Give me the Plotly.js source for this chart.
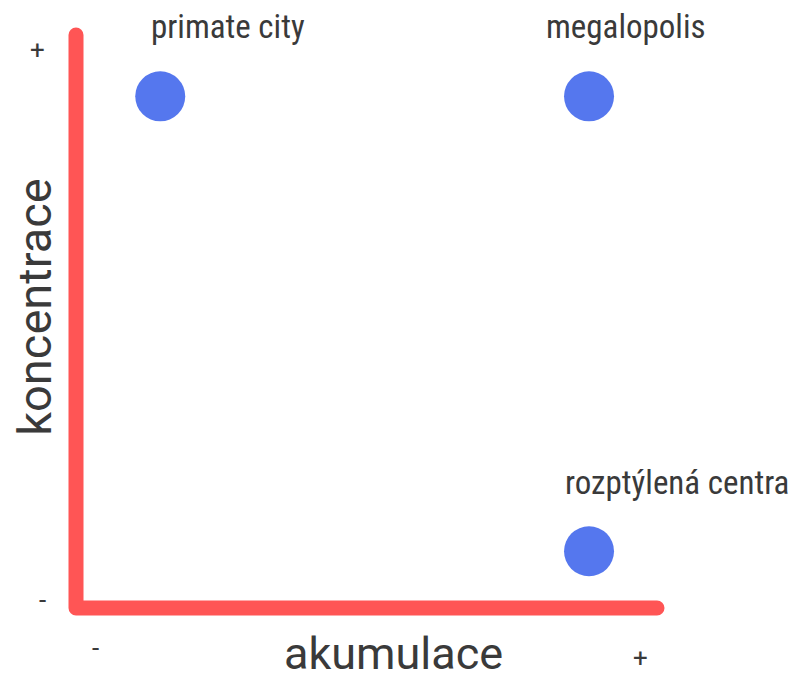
<!DOCTYPE html>
<html>
<head>
<meta charset="utf-8">
<script src="https://cdn.plot.ly/plotly-3.0.1.min.js"></script>
<style>
html,body{margin:0;padding:0;background:#fff;}
#chart{width:795px;height:680px;}
.scatterlayer .js-line{stroke-linecap:round;stroke-linejoin:round;}
</style>
</head>
<body>
<div id="chart"></div>
<script>
// Axis frame (L-shape)
var frameX = [0, 0, 10];
var frameY = [10, 0, 0];

// Categories and their positions (akumulace, koncentrace)
var categories = ["primate city", "megalopolis", "rozptýlená centra"];
var akumulace = [1.45, 8.83, 8.83];
var koncentrace = [8.93, 8.93, 0.99];

// Tick labels
var xTickLabels = ["-", "+"];
var yTickLabels = ["+", "-"];

var xTitle = "akumulace";
var yTitle = "koncentrace";

var textColor = "#3a3a3a";
var labelFont = {family: "Roboto Condensed, Liberation Sans Narrow, DejaVu Sans Condensed, sans-serif", size: 33, color: textColor};
var tickFont = {family: "Roboto, sans-serif", size: 26, color: textColor};

var traces = [
  {x: frameX, y: frameY, mode: "lines", line: {color: "#FF5555", width: 15}, hoverinfo: "skip", showlegend: false},
  {x: akumulace, y: koncentrace, mode: "markers", marker: {color: "#5577EE", size: 50}, text: categories, showlegend: false}
];

var annotations = [];
// category labels above dots
var labelOffsets = [[1.17, 1.21], [0.63, 1.21], [1.51, 1.2]];
for (var i = 0; i < categories.length; i++) {
  annotations.push({x: akumulace[i] + labelOffsets[i][0], y: koncentrace[i] + labelOffsets[i][1], text: categories[i], showarrow: false, font: labelFont, xanchor: "center", yanchor: "middle"});
}
// tick labels
annotations.push({x: 0.33, y: -0.7, text: xTickLabels[0], showarrow: false, font: tickFont});
annotations.push({x: 9.71, y: -0.87, text: xTickLabels[1], showarrow: false, font: tickFont});
annotations.push({x: -0.67, y: 9.74, text: yTickLabels[0], showarrow: false, font: tickFont});
annotations.push({x: -0.58, y: 0.14, text: yTickLabels[1], showarrow: false, font: tickFont});
// axis titles
annotations.push({x: 5.47, y: -0.8, text: xTitle, showarrow: false, font: {family: "Roboto, sans-serif", size: 45, color: textColor}});
annotations.push({x: -0.72, y: 5.26, text: yTitle, showarrow: false, textangle: -90, font: {family: "Roboto, sans-serif", size: 47, color: textColor}});

var layout = {
  width: 795, height: 680,
  margin: {l: 0, r: 0, t: 0, b: 0},
  paper_bgcolor: "#ffffff", plot_bgcolor: "#ffffff",
  xaxis: {range: [-1.308, 12.375], visible: false, fixedrange: true},
  yaxis: {range: [-1.257, 10.611], visible: false, fixedrange: true},
  annotations: annotations,
  showlegend: false
};

Plotly.newPlot("chart", traces, layout, {displayModeBar: false, staticPlot: true});
</script>
</body>
</html>
